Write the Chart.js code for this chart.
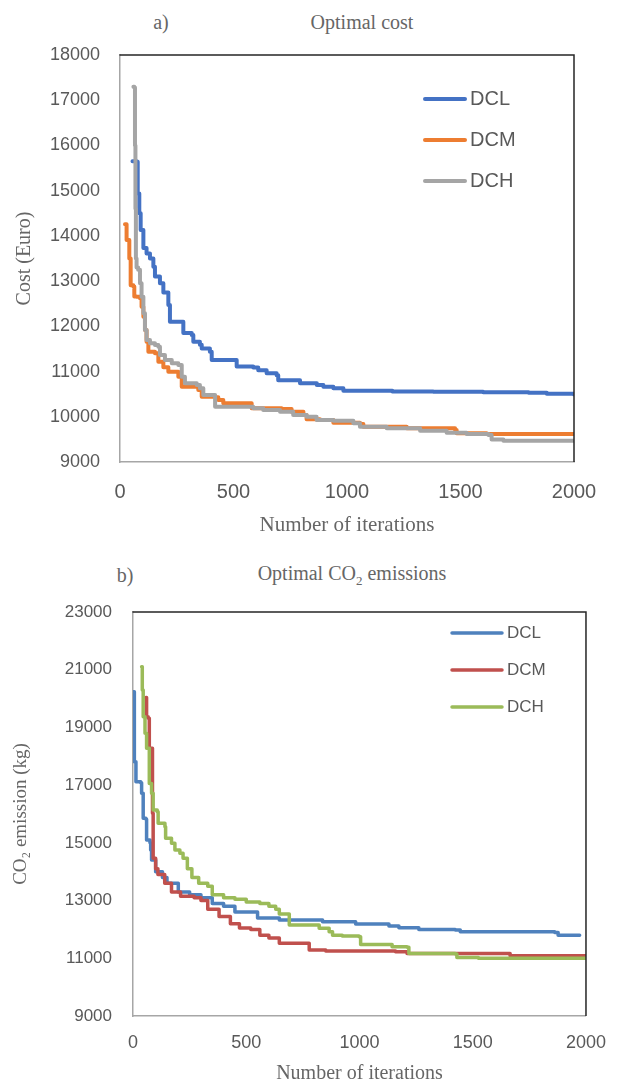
<!DOCTYPE html>
<html><head><meta charset="utf-8">
<script src="https://cdn.jsdelivr.net/npm/chart.js@4.4.1/dist/chart.umd.min.js"></script>
<style>
html,body{margin:0;padding:0;background:#fff;}
body{width:622px;height:1086px;position:relative;overflow:hidden;}
.wrap{position:absolute;left:0;width:622px;}
.t{position:absolute;font-family:"Liberation Serif",serif;font-size:20px;color:#666;white-space:nowrap;line-height:1;transform:translate(-50%,-50%);}
</style></head><body>
<div class="t" style="left:161px;top:22px">a)</div>
<div class="t" style="left:362px;top:22px">Optimal cost</div>
<div class="t" style="left:125px;top:575px">b)</div>
<div class="t" style="left:352px;top:575px">Optimal CO<sub style="font-size:13px">2</sub> emissions</div>
<div class="wrap" style="top:0;height:545px"><canvas id="c1" width="622" height="545"></canvas></div>
<div class="wrap" style="top:545px;height:541px"><canvas id="c2" width="622" height="541"></canvas></div>
<script>
// ---------- data: chart a) Optimal cost ----------
const seriesNamesA = ['DCL', 'DCM', 'DCH'];
const xTicksA = [0, 500, 1000, 1500, 2000];
const yTicksA = [9000, 10000, 11000, 12000, 13000, 14000, 15000, 16000, 17000, 18000];
const dclIterA = [55, 74, 78, 85, 91, 103, 117, 132, 147, 154, 176, 191, 213, 220, 257, 279, 316, 323, 352, 360, 396, 404, 507, 514, 587, 609, 646, 690, 697, 749, 793, 867, 896, 940, 984, 1028, 1200, 1380, 1600, 1800, 1880, 2000];
const dclCostA = [15650, 15640, 14940, 14500, 14130, 13730, 13610, 13500, 13320, 13100, 12950, 12750, 12470, 12100, 12100, 11850, 11810, 11660, 11590, 11510, 11440, 11255, 11255, 11110, 11090, 11030, 10960, 10920, 10810, 10810, 10740, 10700, 10665, 10630, 10575, 10575, 10560, 10555, 10540, 10530, 10510, 10495];
const dcmIterA = [22, 29, 41, 47, 47, 59, 63, 73, 88, 95, 103, 110, 117, 125, 154, 169, 191, 213, 257, 272, 345, 360, 419, 433, 455, 558, 580, 712, 756, 808, 822, 881, 940, 1057, 1072, 1233, 1263, 1476, 1483, 1615, 2000];
const dcmCostA = [14260, 13910, 13500, 13320, 12910, 12880, 12660, 12655, 12620, 12435, 12213, 11919, 11660, 11440, 11404, 11218, 11094, 10997, 10886, 10665, 10592, 10444, 10430, 10371, 10298, 10298, 10187, 10172, 10113, 10039, 9944, 9929, 9870, 9840, 9781, 9781, 9745, 9708, 9635, 9620, 9620];
const dchIterA = [59, 63, 66, 68, 70, 73, 80, 88, 95, 103, 110, 117, 132, 154, 169, 176, 198, 228, 257, 272, 286, 338, 352, 367, 411, 419, 558, 587, 631, 705, 763, 822, 866, 940, 1028, 1057, 1175, 1322, 1439, 1527, 1623, 1637, 1689, 2000];
const dchCostA = [17300, 17280, 16000, 14600, 13500, 13300, 13250, 12950, 12655, 12288, 11919, 11698, 11625, 11587, 11550, 11366, 11255, 11183, 11145, 10886, 10740, 10703, 10630, 10482, 10482, 10223, 10223, 10187, 10150, 10113, 10039, 10002, 9929, 9914, 9856, 9781, 9745, 9693, 9648, 9620, 9597, 9500, 9471, 9471];

// ---------- data: chart b) Optimal CO2 emissions ----------
const seriesNamesB = ['DCL', 'DCM', 'DCH'];
const xTicksB = [0, 500, 1000, 1500, 2000];
const yTicksB = [9000, 11000, 13000, 15000, 17000, 19000, 21000, 23000];
const dclIterB = [1, 6, 13, 13, 34, 38, 45, 45, 57, 60, 75, 78, 82, 100, 130, 150, 200, 250, 300, 350, 400, 450, 550, 646, 837, 983, 1130, 1174, 1262, 1423, 1445, 1862, 1877, 1972];
const dclCo2B = [20240, 17810, 17760, 17120, 17085, 16716, 16250, 15850, 15815, 15100, 15000, 14750, 14405, 14000, 13800, 13600, 13300, 13200, 13100, 12900, 12800, 12600, 12400, 12326, 12270, 12190, 12120, 12060, 12000, 11980, 11920, 11890, 11800, 11800];
const dcmIterB = [57, 60, 67, 72, 86, 86, 89, 100, 110, 140, 170, 210, 270, 300, 330, 380, 430, 470, 520, 560, 600, 646, 763, 778, 851, 1159, 1210, 1657, 1665, 2000];
const dcmCo2B = [20040, 19370, 19315, 18275, 18275, 16025, 14465, 14100, 13900, 13600, 13300, 13150, 13100, 13000, 12700, 12450, 12200, 12050, 12000, 11800, 11700, 11520, 11520, 11290, 11250, 11230, 11170, 11170, 11090, 11090];
const dchIterB = [38, 41, 45, 53, 60, 72, 82, 89, 107, 111, 141, 144, 170, 185, 207, 221, 240, 260, 290, 330, 350, 400, 450, 500, 560, 600, 630, 646, 676, 690, 793, 822, 866, 881, 924, 998, 1005, 1115, 1144, 1210, 1218, 1423, 1430, 1525, 2000];
const dchCo2B = [21100, 20300, 19370, 18800, 18275, 17060, 16716, 16140, 16080, 15680, 15560, 15157, 14985, 14750, 14640, 14465, 14100, 13800, 13600, 13500, 13200, 13100, 13050, 12950, 12900, 12800, 12700, 12535, 12535, 12150, 12150, 12040, 11920, 11800, 11770, 11750, 11480, 11480, 11400, 11380, 11170, 11150, 11030, 11000, 11000];

// ---------- helpers ----------
const pts = (xs, ys) => xs.map((x, i) => ({x: x, y: ys[i]}));
const TICK_COLOR = '#595959';

const framePlugin = {
  id: 'frame',
  afterDraw(chart, args, opts) {
    const {ctx, chartArea: {left, right, top, bottom}} = chart;
    ctx.save();
    ctx.strokeStyle = '#262626';
    ctx.lineWidth = 1.5;
    ctx.beginPath();
    ctx.moveTo(left - 0.5, top);
    ctx.lineTo(right, top);
    ctx.lineTo(right, bottom);
    ctx.stroke();
    const L = opts.legend;
    chart.data.datasets.forEach((ds, i) => {
      const y = L.y + i * L.dy;
      ctx.strokeStyle = ds.borderColor;
      ctx.lineWidth = L.lw;
      ctx.lineCap = 'round';
      ctx.beginPath();
      ctx.moveTo(L.x1, y);
      ctx.lineTo(L.x2, y);
      ctx.stroke();
      ctx.fillStyle = TICK_COLOR;
      ctx.font = L.font;
      ctx.textBaseline = 'middle';
      ctx.textAlign = 'left';
      ctx.fillText(ds.label, L.tx, y);
    });
    ctx.restore();
  }
};

function makeChart(id, cfg) {
  const ds = cfg.series.map((s, i) => ({
    label: s.name,
    data: pts(s.x, s.y),
    borderColor: s.color,
    backgroundColor: s.color,
    borderWidth: cfg.lw,
    pointRadius: 0,
    tension: 0,
    stepped: 'before',
    borderCapStyle: 'round',
    borderJoinStyle: 'round',
    order: cfg.series.length - i
  }));
  return new Chart(document.getElementById(id), {
    type: 'line',
    data: {datasets: ds},
    plugins: [framePlugin],
    options: {
      responsive: false,
      animation: false,
      events: [],
      layout: {padding: cfg.pad},
      plugins: {
        legend: {display: false},
        tooltip: {enabled: false},
        title: {display: false},
        frame: {legend: cfg.legend}
      },
      scales: {
        x: {
          type: 'linear', min: 0, max: 2000,
          grid: {display: false, drawTicks: false},
          border: {display: true, color: '#A6A6A6', width: 1.5},
          afterBuildTicks: s => { s.ticks = cfg.xTicks.map(v => ({value: v})); },
          afterFit: s => { s.height = cfg.xH; },
          ticks: {color: TICK_COLOR, font: {family: 'Liberation Sans', size: cfg.xTickSize}, padding: cfg.xTickPad, maxRotation: 0, callback: v => String(v)},
          title: {display: true, text: 'Number of iterations', color: '#666', font: {family: 'Liberation Serif', size: cfg.xTitleSize}, padding: {top: 0, bottom: cfg.xTitlePad}}
        },
        y: {
          type: 'linear', min: cfg.yTicks[0], max: cfg.yTicks[cfg.yTicks.length - 1],
          grid: {display: false, drawTicks: false},
          border: {display: true, color: '#A6A6A6', width: 1.5},
          afterBuildTicks: s => { s.ticks = cfg.yTicks.map(v => ({value: v})); },
          afterFit: s => { s.width = cfg.yW; },
          ticks: {color: TICK_COLOR, font: {family: 'Liberation Sans', size: cfg.yTickSize}, padding: cfg.yTickPad, callback: v => String(v)},
          title: {display: true, text: cfg.yTitle, color: '#666', font: {family: 'Liberation Serif', size: cfg.yTitleSize}, padding: {top: cfg.yTitlePad, bottom: 0}}
        }
      }
    }
  });
}

makeChart('c1', {
  series: [
    {name: seriesNamesA[0], x: dclIterA, y: dclCostA, color: '#4472C4'},
    {name: seriesNamesA[1], x: dcmIterA, y: dcmCostA, color: '#ED7D31'},
    {name: seriesNamesA[2], x: dchIterA, y: dchCostA, color: '#A5A5A5'}
  ],
  lw: 4,
  pad: {top: 55, right: 48, bottom: 0, left: 0},
  xTicks: xTicksA, yTicks: yTicksA,
  xH: 83, yW: 120,
  xTickSize: 20, xTickPad: 18, xTitleSize: 21, xTitlePad: 7,
  yTickSize: 18, yTickPad: 20, yTitle: 'Cost (Euro)', yTitleSize: 20, yTitlePad: 13,
  legend: {x1: 425, x2: 465, tx: 470, y: 99, dy: 41, lw: 4, font: '20px "Liberation Sans"'}
});

makeChart('c2', {
  series: [
    {name: seriesNamesB[0], x: dclIterB, y: dclCo2B, color: '#4F81BD'},
    {name: seriesNamesB[1], x: dcmIterB, y: dcmCo2B, color: '#C0504D'},
    {name: seriesNamesB[2], x: dchIterB, y: dchCo2B, color: '#9BBB59'}
  ],
  lw: 3.5,
  pad: {top: 67, right: 34, bottom: 0, left: 0},
  xTicks: xTicksB, yTicks: yTicksB,
  xH: 70, yW: 133,
  xTickSize: 18, xTickPad: 16, xTitleSize: 20, xTitlePad: 0,
  yTickSize: 17, yTickPad: 21, yTitle: 'CO\u2082 emission (kg)', yTitleSize: 19, yTitlePad: 10,
  legend: {x1: 452, x2: 502, tx: 507, y: 88, dy: 37, lw: 3.5, font: '17px "Liberation Sans"'}
});
</script>
</body></html>
